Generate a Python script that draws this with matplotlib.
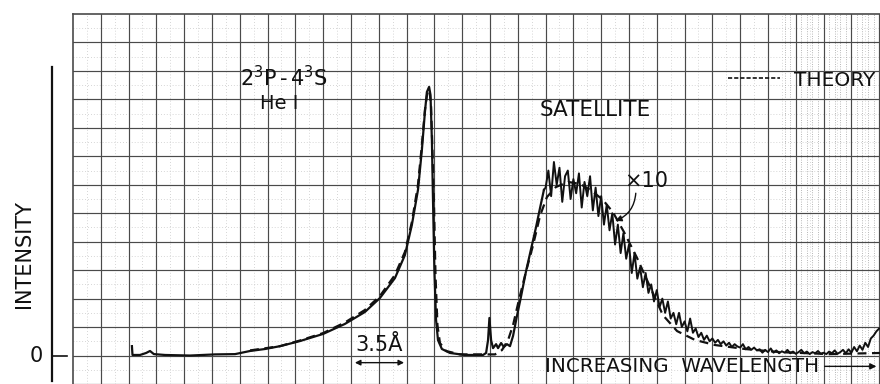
import numpy as np
import matplotlib
matplotlib.use("Agg")
import matplotlib.pyplot as plt
plt.rcParams.update({'font.family': 'DejaVu Sans'})

# wavelength in chart divisions, intensity in chart divisions (0 = baseline)
line_wl = [2.12, 2.14, 2.41, 2.63, 2.77, 2.91, 3.31, 4.21, 5.11, 5.83, 6.37, 6.91,
           7.45, 8.17, 9.0, 9.78, 10.5, 11.04, 11.58, 11.94, 12.19, 12.41, 12.55,
           12.66, 12.73, 12.81, 12.86, 12.91, 12.95, 13.0, 13.06, 13.13, 13.27,
           13.56, 14.1, 14.75, 14.86, 14.93, 14.98, 15.04, 15.11, 15.22, 15.29,
           15.40, 15.50, 15.61, 15.72, 15.83, 15.97, 16.12, 16.29, 16.47, 16.65,
           16.80, 16.94]
line_int = [0.33, 0.02, 0.02, 0.09, 0.16, 0.05, 0.02, 0.0, 0.04, 0.05, 0.16, 0.23,
            0.33, 0.51, 0.76, 1.11, 1.53, 2.02, 2.72, 3.53, 4.59, 5.82, 7.22,
            8.56, 9.26, 9.44, 9.16, 7.57, 5.47, 3.0, 1.25, 0.54, 0.23,
            0.09, 0.02, 0.02, 0.09, 0.54, 1.32, 0.54, 0.26, 0.40, 0.26,
            0.44, 0.30, 0.40, 0.33, 0.69, 1.39, 2.09, 2.93, 3.71, 4.48,
            5.18, 5.82]

# noisy satellite trace (x10), sampled every 0.1 division from 17.0
sat_start = 17.0
sat_step = 0.1
sat_int = [5.9, 6.5, 5.6, 6.8, 6.0, 6.6, 5.4, 6.3, 6.5, 5.5,
           6.2, 5.7, 6.4, 5.2, 6.1, 5.6, 6.3, 5.1, 5.9, 4.9,
           5.6, 4.6, 5.3, 4.4, 5.0, 3.9, 4.6, 3.6, 4.3, 3.4,
           3.9, 2.9, 3.6, 2.7, 3.1, 2.4, 2.9, 2.2, 2.5, 1.9,
           2.3, 1.7, 2.0, 1.5, 1.9, 1.3, 1.5, 1.1, 1.5, 1.0,
           1.2, 0.85, 1.3, 0.8, 0.95, 0.65, 0.8, 0.55, 0.7, 0.5,
           0.6, 0.45, 0.55, 0.4, 0.5, 0.35, 0.45, 0.3, 0.4, 0.32,
           0.28, 0.4, 0.22, 0.3, 0.2, 0.28, 0.18, 0.22, 0.1, 0.2,
           0.12, 0.25, 0.1, 0.18, 0.08, 0.15, 0.1, 0.2, 0.08, 0.14,
           0.06, 0.12, 0.2, 0.08, 0.14, 0.05, 0.12, 0.08, 0.16, 0.06,
           0.1, 0.05, 0.14, 0.08, 0.18, 0.06, 0.12, 0.2, 0.08, 0.22,
           0.1, 0.3, 0.15, 0.35, 0.2, 0.45, 0.3, 0.6, 0.7, 0.85, 0.95]
sat_wl = np.round(sat_start + sat_step * np.arange(len(sat_int)), 2)

theory_wl = [6.37, 7.45, 8.17, 9.0, 9.78, 10.5, 11.04, 11.58, 11.94, 12.19, 12.41,
             12.55, 12.66, 12.75, 12.82, 12.88, 12.93, 12.99, 13.04, 13.11, 13.2,
             13.42, 13.92, 15.18, 15.43, 15.65, 15.83, 16.04, 16.29, 16.55, 16.80,
             17.05, 17.37, 17.81, 18.24, 18.67, 19.06, 19.42, 19.82, 20.29, 20.76,
             21.22, 21.73, 22.37, 23.09, 24.17, 25.43, 27.23, 29.03]
theory_int = [0.18, 0.33, 0.53, 0.79, 1.16, 1.6, 2.09, 2.83, 3.64, 4.69, 6.0,
              7.4, 8.63, 9.26, 9.33, 8.8, 7.22, 5.11, 2.83, 1.07, 0.44,
              0.16, 0.04, 0.04, 0.19, 0.54, 1.07, 1.95, 2.93, 3.88, 4.91,
              5.57, 5.92, 6.1, 6.03, 5.78, 5.47, 5.04, 4.34, 3.43, 2.41,
              1.42, 0.86, 0.55, 0.37, 0.23, 0.12, 0.05, 0.09]

ink = '#111111'
grid_c = '#4a4a4a'

fig = plt.figure(figsize=(8.8, 3.84), dpi=100)
ax = fig.add_axes([73 / 880, 0, 807 / 880, 370 / 384])
ax.set_xlim(0, 29.03)
ax.set_ylim(-1.0, 12.0)

# chart paper: faint dotted subdivisions, then the main ruling
for x in np.arange(0.5, 29.0, 1.0):
    ax.axvline(x, color='#c8c8c8', lw=0.6, ls=(0, (1, 2.5)), zorder=0)
for y in np.arange(-0.5, 12.0, 1.0):
    ax.axhline(y, color='#c8c8c8', lw=0.6, ls=(0, (1, 2.5)), zorder=0)
for x in np.arange(25.6, 29.0, 0.2):
    ax.axvline(x, color='#a0a0a0', lw=0.6, ls=(0, (1, 1.8)), zorder=0)
for x in range(1, 30):
    ax.axvline(x, color=grid_c, lw=0.85, zorder=1)
for y in range(-1, 12):
    ax.axhline(y, color=grid_c, lw=0.85, zorder=1)

for side in ['right', 'bottom']:
    ax.spines[side].set_visible(False)
for side in ['left', 'top']:
    ax.spines[side].set_color(grid_c)
    ax.spines[side].set_linewidth(1.2)
ax.set_xticks([])
ax.set_yticks([])

# measured profile and theory
ax.plot(line_wl, line_int, color=ink, lw=1.6, zorder=4, solid_joinstyle='round')
ax.plot(np.concatenate([[line_wl[-1]], sat_wl]), np.concatenate([[line_int[-1]], sat_int]),
        color=ink, lw=1.4, zorder=4)
ax.plot(theory_wl, theory_int, color=ink, lw=1.6, ls=(0, (4, 2.5)), zorder=3)

# labels on the chart
tkw = dict(color=ink, zorder=5)
ax.text(7.6, 9.75, '$\\mathregular{2^3P\\,\u2010\\,4^3S}$', fontsize=15, ha='center', va='center', **tkw)
ax.text(7.4, 8.87, 'He I', fontsize=14, ha='center', va='center', **tkw)
ax.text(18.8, 8.63, 'SATELLITE', fontsize=15.5, ha='center', va='center', **tkw)
ax.text(20.6, 6.13, '×10', fontsize=15, ha='center', va='center', **tkw)
ax.annotate('', xy=(19.42, 4.7), xytext=(20.25, 5.8),
            arrowprops=dict(arrowstyle='-|>', color=ink, lw=1.0, mutation_scale=9,
                            connectionstyle='arc3,rad=-0.35'), zorder=5)
ax.plot([23.56, 25.43], [9.75, 9.75], color=ink, lw=1.2, ls=(0, (2.5, 1.2)), zorder=5)
ax.text(27.4, 9.68, 'THEORY', fontsize=14.5, ha='center', va='center', **tkw)

ax.text(11.0, 0.37, '3.5Å', fontsize=15, ha='center', va='center', **tkw)
ax.annotate('', xy=(10.04, -0.25), xytext=(12.01, -0.25),
            arrowprops=dict(arrowstyle='<|-|>', color=ink, lw=1.0, mutation_scale=8), zorder=5)
ax.text(21.9, -0.37, 'INCREASING  WAVELENGTH', fontsize=14.3, ha='center', va='center', **tkw)
ax.annotate('', xy=(29.0, -0.38), xytext=(26.94, -0.38),
            arrowprops=dict(arrowstyle='-|>', color=ink, lw=1.0, mutation_scale=9), zorder=5)

# intensity scale to the left of the paper
ax.plot([-0.755, -0.755], [-0.9, 10.13], color=ink, lw=1.6, clip_on=False)
ax.plot([-0.755, -0.216], [0.0, 0.0], color=ink, lw=1.2, clip_on=False)
ax.text(-1.33, 0.0, '0', fontsize=15, ha='center', va='center', clip_on=False, **tkw)
ax.text(-1.76, 3.55, 'INTENSITY', fontsize=15, rotation=90, ha='center', va='center',
        clip_on=False, **tkw)

fig.savefig('out.png', dpi=100, facecolor='white')
